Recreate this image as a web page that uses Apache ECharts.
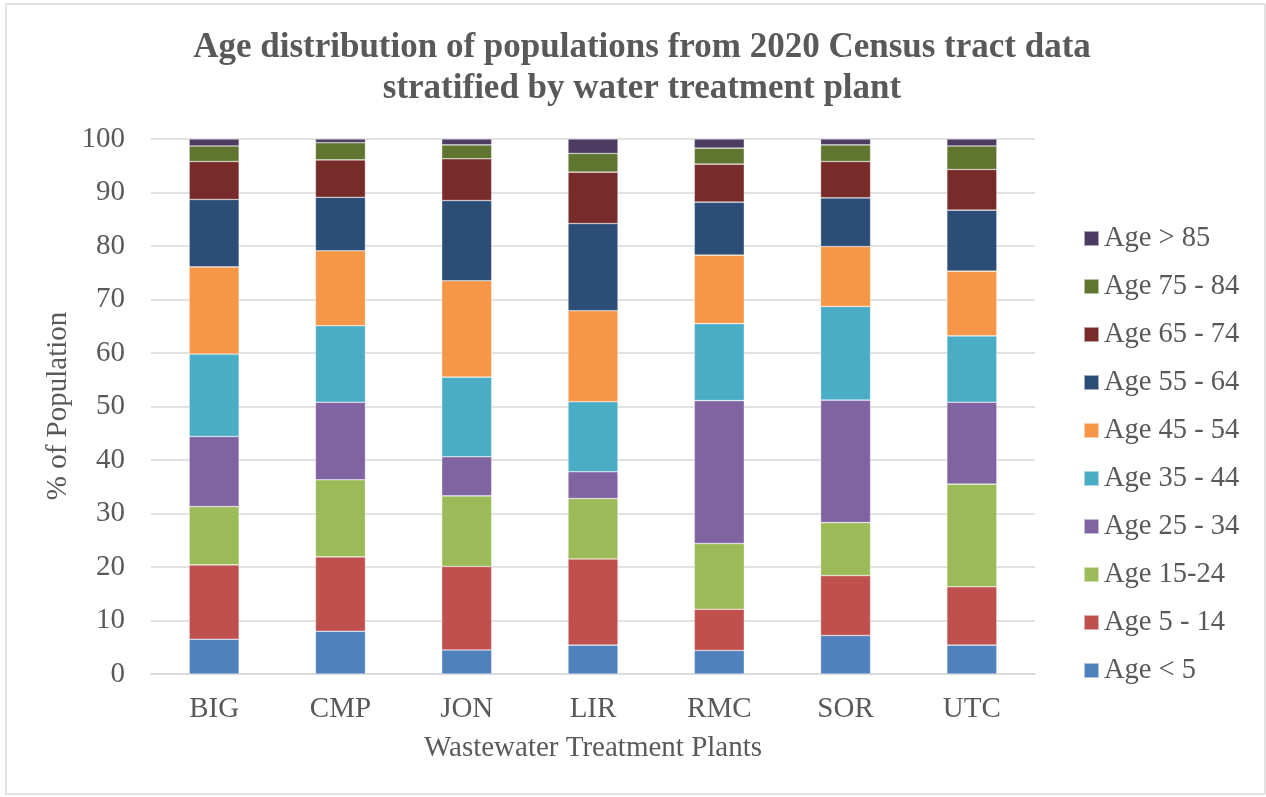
<!DOCTYPE html>
<html>
<head>
<meta charset="utf-8">
<script src="https://cdn.jsdelivr.net/npm/echarts@6/dist/echarts.min.js"></script>
<style>
  html, body { margin: 0; padding: 0; background: #fff; }
  #chart { width: 1266px; height: 797px; }
</style>
</head>
<body>
<div id="chart"></div>
<script>
var plants = ['BIG', 'CMP', 'JON', 'LIR', 'RMC', 'SOR', 'UTC'];

// % of population per age group, one value per plant (bottom to top)
var ageUnder5 = [6.5, 8.0, 4.5, 5.4, 4.4, 7.2, 5.4];
var age5to14 = [13.9, 13.9, 15.6, 16.1, 7.7, 11.2, 10.9];
var age15to24 = [10.9, 14.4, 13.2, 11.3, 12.3, 9.9, 19.2];
var age25to34 = [13.1, 14.5, 7.3, 5.0, 26.7, 22.9, 15.3];
var age35to44 = [15.4, 14.3, 14.9, 13.1, 14.4, 17.5, 12.4];
var age45to54 = [16.3, 14.0, 18.0, 17.0, 12.8, 11.2, 12.1];
var age55to64 = [12.6, 10.0, 15.0, 16.3, 9.9, 9.1, 11.4];
var age65to74 = [7.1, 7.0, 7.8, 9.6, 7.1, 6.8, 7.6];
var age75to84 = [2.9, 3.2, 2.6, 3.5, 3.0, 3.1, 4.4];
var ageOver85 = [1.3, 0.7, 1.1, 2.7, 1.7, 1.1, 1.3];

var groupNames = ['Age < 5', 'Age 5 - 14', 'Age 15-24', 'Age 25 - 34', 'Age 35 - 44',
  'Age 45 - 54', 'Age 55 - 64', 'Age 65 - 74', 'Age 75 - 84', 'Age > 85'];
var groupValues = [ageUnder5, age5to14, age15to24, age25to34, age35to44,
  age45to54, age55to64, age65to74, age75to84, ageOver85];
var yTicks = [0, 10, 20, 30, 40, 50, 60, 70, 80, 90, 100];

var colors = ['#4F81BD', '#C0504D', '#9BBB59', '#8064A2', '#4BACC6',
  '#F79646', '#2C4D75', '#772C2A', '#5F7530', '#4D3B62'];

var font = '"Liberation Serif", "Times New Roman", serif';
var textColor = '#595959';

var series = [];
for (var i = 0; i < groupNames.length; i++) {
  series.push({
    name: groupNames[i],
    type: 'bar',
    stack: 'total',
    barWidth: 50,
    itemStyle: {
      color: colors[i],
      borderColor: 'rgba(255,255,255,0.55)',
      borderWidth: 0.6
    },
    data: groupValues[i]
  });
}

var myChart = echarts.init(document.getElementById('chart'));
var option = {
  animation: false,
  color: colors,
  textStyle: { fontFamily: font, color: textColor },
  title: {
    text: 'Age distribution of populations from 2020 Census tract data\nstratified by water treatment plant',
    left: 637,
    top: 22,
    textAlign: 'center',
    textStyle: {
      fontFamily: font,
      fontSize: 35,
      fontWeight: 'bold',
      color: textColor,
      lineHeight: 41
    }
  },
  legend: {
    orient: 'vertical',
    left: 1078,
    top: 219,
    icon: 'rect',
    itemWidth: 15,
    itemHeight: 15,
    itemGap: 19,
    data: groupNames.slice().reverse(),
    textStyle: { fontFamily: font, fontSize: 28.5, color: textColor, lineHeight: 29 }
  },
  grid: { left: 151, right: 231, top: 139, bottom: 123 },
  xAxis: {
    type: 'category',
    data: plants,
    name: 'Wastewater Treatment Plants',
    nameLocation: 'middle',
    nameGap: 60,
    nameTextStyle: { fontFamily: font, fontSize: 29, color: textColor },
    axisLine: { lineStyle: { color: '#d9d9d9', width: 1.5 } },
    axisTick: { show: false },
    axisLabel: { fontFamily: font, fontSize: 29, color: textColor, margin: 21 }
  },
  yAxis: {
    type: 'value',
    min: yTicks[0],
    max: yTicks[yTicks.length - 1],
    interval: yTicks[1] - yTicks[0],
    axisLine: { show: false },
    axisTick: { show: false },
    splitLine: { lineStyle: { color: '#d9d9d9', width: 1.5 } },
    axisLabel: { fontFamily: font, fontSize: 29, color: textColor, margin: 26 }
  },
  graphic: [
    {
      type: 'rect',
      shape: { x: 6, y: 4, width: 1259, height: 790 },
      style: { fill: 'none', stroke: '#d9d9d9', lineWidth: 1.5 },
      silent: true
    },
    {
      type: 'text',
      x: 58,
      y: 406,
      rotation: Math.PI / 2,
      style: {
        text: '% of Population',
        font: '29px ' + font,
        fill: textColor,
        textAlign: 'center',
        textVerticalAlign: 'middle'
      }
    }
  ],
  series: series
};
myChart.setOption(option);
</script>
</body>
</html>
